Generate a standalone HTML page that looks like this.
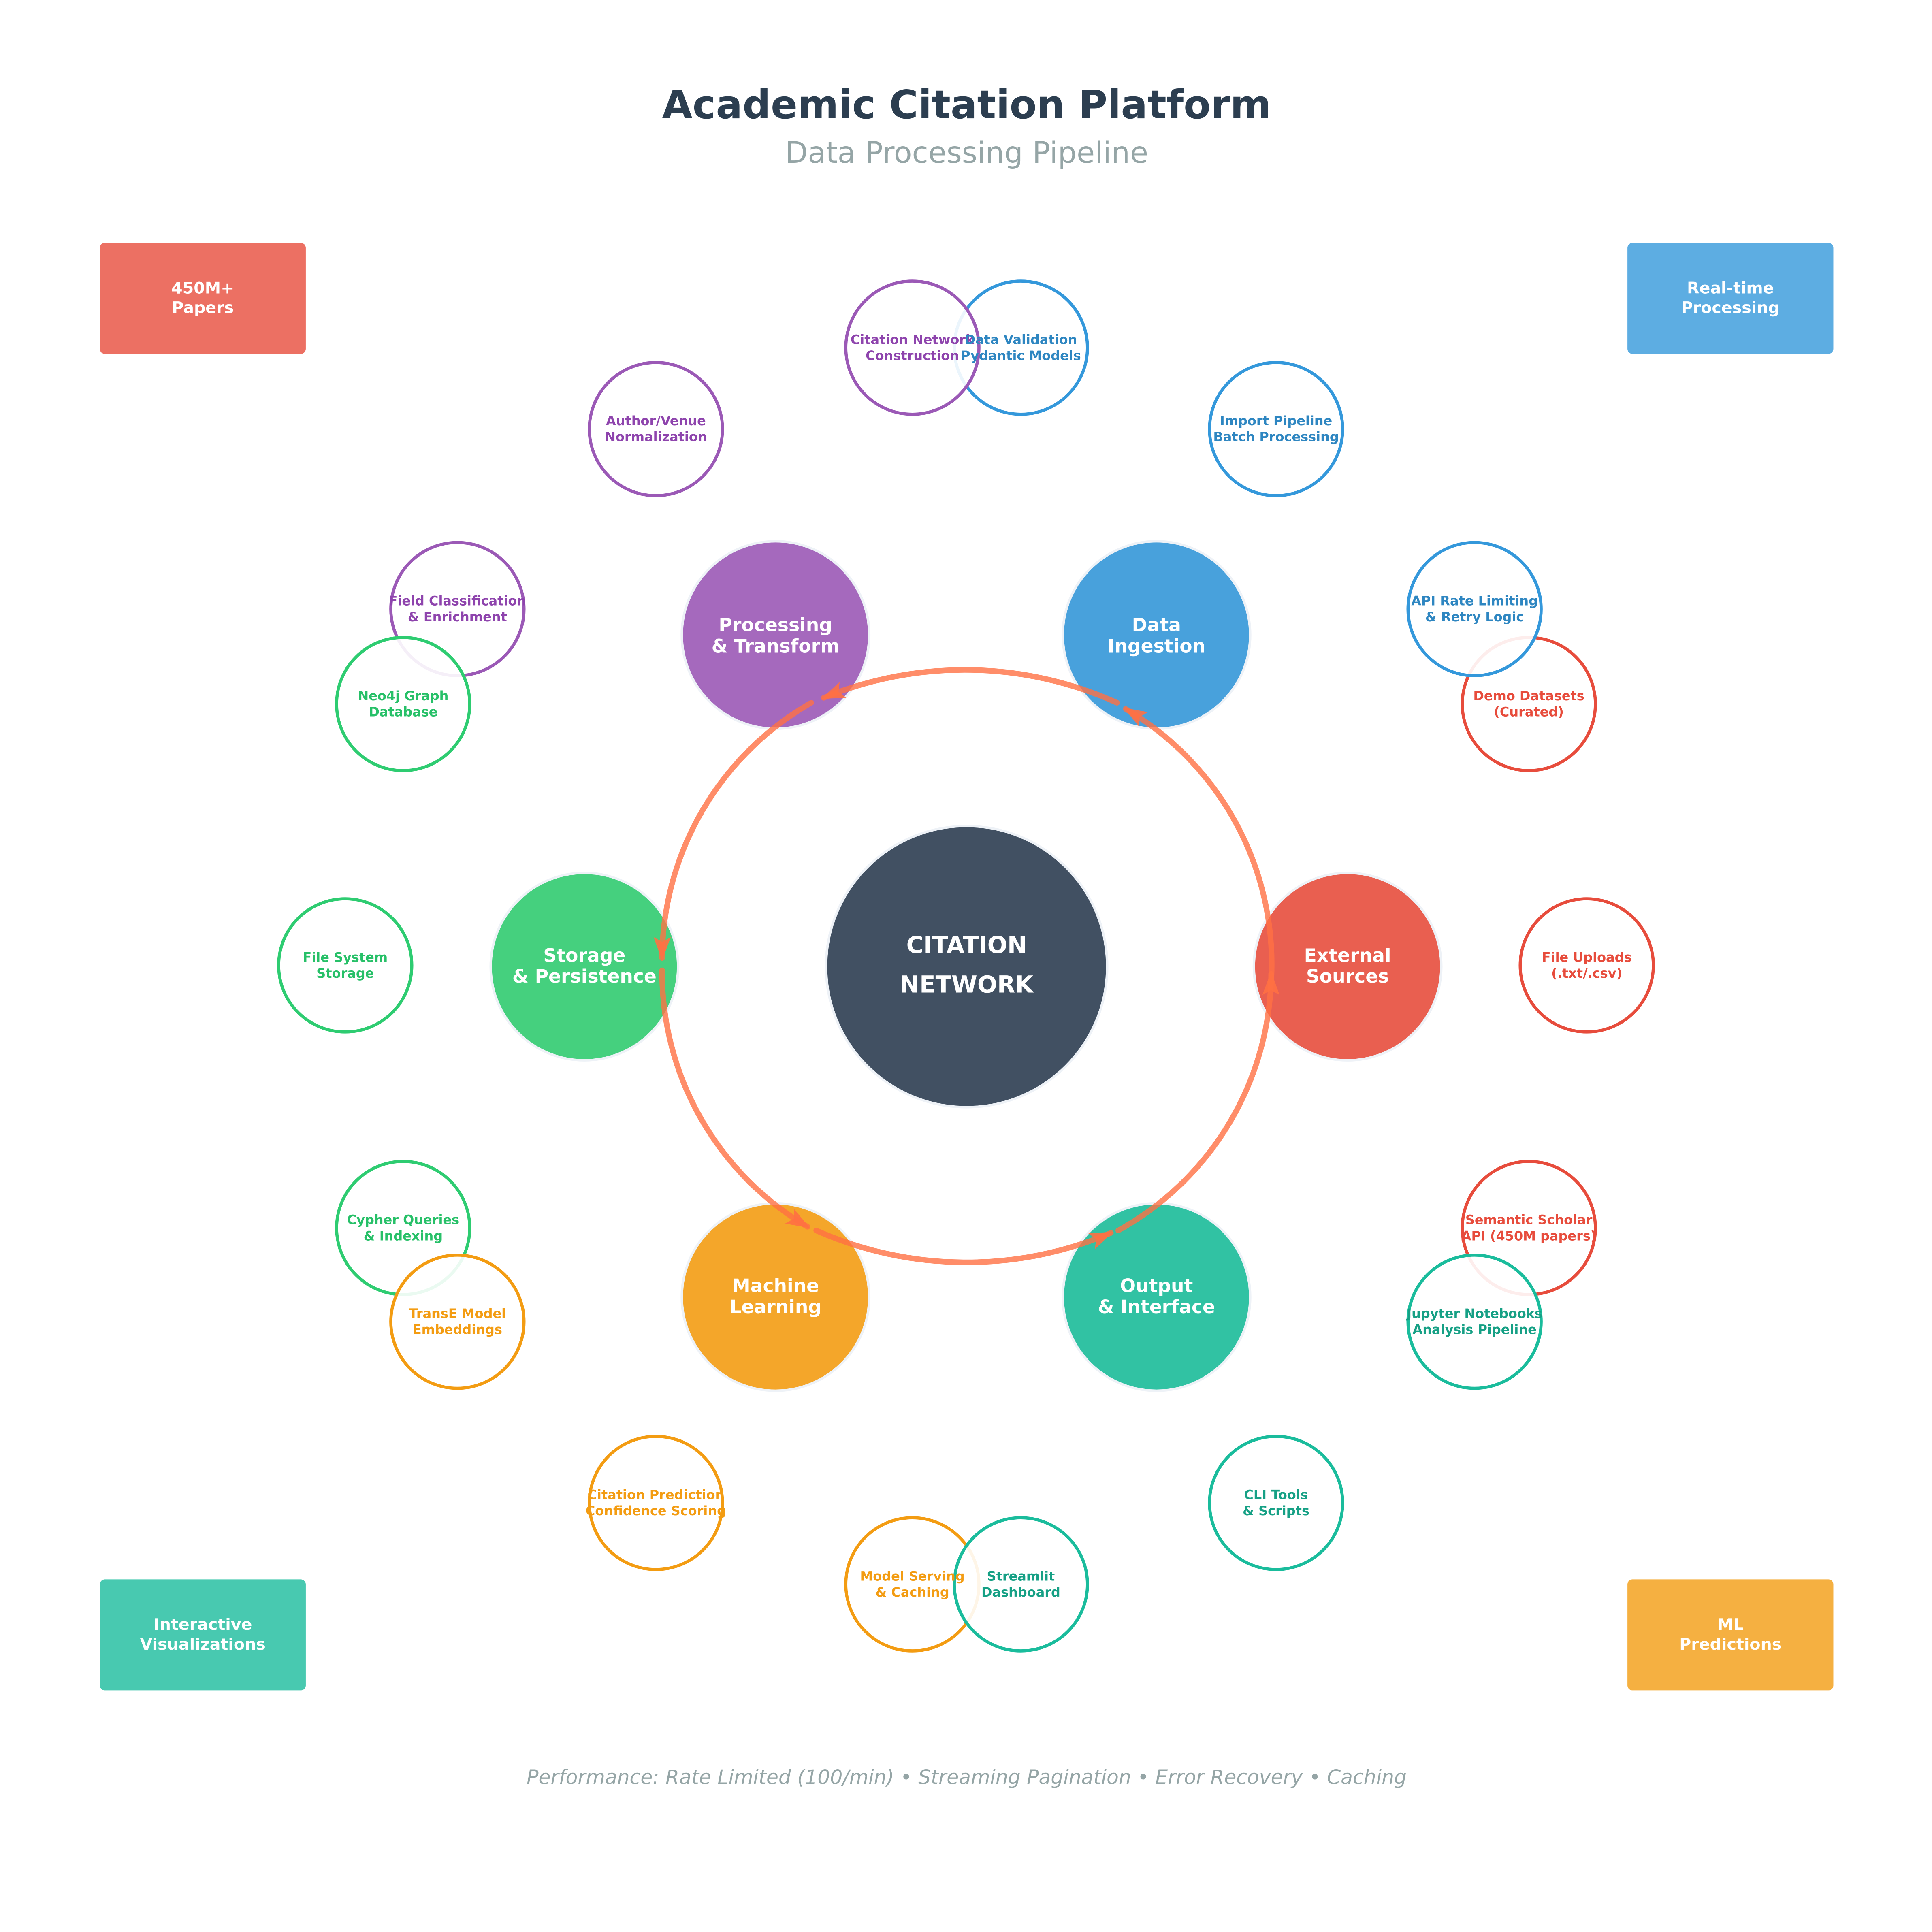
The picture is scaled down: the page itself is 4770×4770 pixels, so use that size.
<!DOCTYPE html>
<html><head><meta charset="utf-8"><style>
html,body{margin:0;padding:0;background:#fff}
svg{display:block}
text{font-family:"DejaVu Sans","Liberation Sans",sans-serif}
</style></head><body>
<svg width="4770" height="4770" viewBox="0 0 1567 1567" xmlns="http://www.w3.org/2000/svg">
<defs>
<marker id="ah" markerWidth="22" markerHeight="16" refX="18" refY="8" orient="auto" markerUnits="userSpaceOnUse">
<path d="M1,1 L20,8 L1,15 L5,8 z" fill="#ff7043" fill-opacity="0.9"/>
</marker>
</defs>
<rect width="1567" height="1567" fill="#fff"/>
<text x="784" y="96" text-anchor="middle" font-size="32" font-weight="bold" fill="#2c3e50">Academic Citation Platform</text>
<text x="784" y="132" text-anchor="middle" font-size="24" fill="#95a5a6">Data Processing Pipeline</text>

<g font-size="13" font-weight="bold" fill="#fff" text-anchor="middle">
<rect x="81" y="197" width="167" height="90" rx="4" fill="#ec7063"/>
<text x="164.5" y="238">450M+</text><text x="164.5" y="254">Papers</text>
<rect x="1320" y="197" width="167" height="90" rx="4" fill="#5dade2"/>
<text x="1403.5" y="238">Real-time</text><text x="1403.5" y="254">Processing</text>
<rect x="81" y="1281" width="167" height="90" rx="4" fill="#48c9b0"/>
<text x="164.5" y="1322">Interactive</text><text x="164.5" y="1338">Visualizations</text>
<rect x="1320" y="1281" width="167" height="90" rx="4" fill="#f5b041"/>
<text x="1403.5" y="1322">ML</text><text x="1403.5" y="1338">Predictions</text>
</g>

<g stroke="#eef2f7" stroke-width="2">
<circle cx="784" cy="784" r="114" fill="#415062"/>
<circle cx="629" cy="515" r="76" fill="#a569bd"/>
<circle cx="938" cy="515" r="76" fill="#48a1dc"/>
<circle cx="474" cy="784" r="76" fill="#45d07e"/>
<circle cx="1093" cy="784" r="76" fill="#e95f50"/>
<circle cx="629" cy="1052" r="76" fill="#f4a62a"/>
<circle cx="938" cy="1052" r="76" fill="#31c2a3"/>
</g>
<g font-size="15" font-weight="bold" fill="#fff" text-anchor="middle">
<text x="784" y="773" font-size="19">CITATION</text>
<text x="784" y="805" font-size="19">NETWORK</text>
<text x="629" y="512">Processing</text><text x="629" y="529">&amp; Transform</text>
<text x="938" y="512">Data</text><text x="938" y="529">Ingestion</text>
<text x="474" y="780">Storage</text><text x="474" y="797">&amp; Persistence</text>
<text x="1093" y="780">External</text><text x="1093" y="797">Sources</text>
<text x="629" y="1048">Machine</text><text x="629" y="1065">Learning</text>
<text x="938" y="1048">Output</text><text x="938" y="1065">&amp; Interface</text>
</g>

<g fill="none" stroke="#ff7043" stroke-opacity="0.8" stroke-width="4.5" stroke-linecap="round" marker-end="url(#ah)">
<path d="M906,570 A300,300 0 0 0 668,566"/>
<path d="M1031,797 A240,240 0 0 0 913,575"/>
<path d="M658,570 A240,240 0 0 0 537,777"/>
<path d="M537,787 A240,240 0 0 0 655,995"/>
<path d="M662,998 A300,300 0 0 0 901,1000"/>
<path d="M907,998 A240,240 0 0 0 1031,790"/>
</g>

<g fill="#fff" fill-opacity="0.9" stroke-width="2.5">
<circle cx="371" cy="494" r="54" stroke="#9b59b6"/>
<circle cx="327" cy="571" r="54" stroke="#2ecc71"/>
<circle cx="532" cy="348" r="54" stroke="#9b59b6"/>
<circle cx="828" cy="282" r="54" stroke="#3498db"/>
<circle cx="740" cy="282" r="54" stroke="#9b59b6"/>
<circle cx="1035" cy="348" r="54" stroke="#3498db"/>
<circle cx="1240" cy="571" r="54" stroke="#e74c3c"/>
<circle cx="1196" cy="494" r="54" stroke="#3498db"/>
<circle cx="1287" cy="783" r="54" stroke="#e74c3c"/>
<circle cx="280" cy="783" r="54" stroke="#2ecc71"/>
<circle cx="327" cy="996" r="54" stroke="#2ecc71"/>
<circle cx="371" cy="1072" r="54" stroke="#f39c12"/>
<circle cx="1240" cy="996" r="54" stroke="#e74c3c"/>
<circle cx="1196" cy="1072" r="54" stroke="#1abc9c"/>
<circle cx="532" cy="1219" r="54" stroke="#f39c12"/>
<circle cx="1035" cy="1219" r="54" stroke="#1abc9c"/>
<circle cx="740" cy="1285" r="54" stroke="#f39c12"/>
<circle cx="828" cy="1285" r="54" stroke="#1abc9c"/>
</g>
<g font-size="10.5" font-weight="bold" text-anchor="middle">
<g fill="#8e44ad">
<text x="740" y="279">Citation Network</text><text x="740" y="292">Construction</text>
<text x="532" y="345">Author/Venue</text><text x="532" y="358">Normalization</text>
<text x="371" y="491">Field Classification</text><text x="371" y="504">&amp; Enrichment</text>
</g>
<g fill="#2e86c1">
<text x="828" y="279">Data Validation</text><text x="828" y="292">Pydantic Models</text>
<text x="1035" y="345">Import Pipeline</text><text x="1035" y="358">Batch Processing</text>
<text x="1196" y="491">API Rate Limiting</text><text x="1196" y="504">&amp; Retry Logic</text>
</g>
<g fill="#e74c3c">
<text x="1240" y="568">Demo Datasets</text><text x="1240" y="581">(Curated)</text>
<text x="1287" y="780">File Uploads</text><text x="1287" y="793">(.txt/.csv)</text>
<text x="1240" y="993">Semantic Scholar</text><text x="1240" y="1006">API (450M papers)</text>
</g>
<g fill="#27c068">
<text x="327" y="568">Neo4j Graph</text><text x="327" y="581">Database</text>
<text x="280" y="780">File System</text><text x="280" y="793">Storage</text>
<text x="327" y="993">Cypher Queries</text><text x="327" y="1006">&amp; Indexing</text>
</g>
<g fill="#f39c12">
<text x="371" y="1069">TransE Model</text><text x="371" y="1082">Embeddings</text>
<text x="532" y="1216">Citation Prediction</text><text x="532" y="1229">Confidence Scoring</text>
<text x="740" y="1282">Model Serving</text><text x="740" y="1295">&amp; Caching</text>
</g>
<g fill="#16a085">
<text x="1196" y="1069">Jupyter Notebooks</text><text x="1196" y="1082">Analysis Pipeline</text>
<text x="1035" y="1216">CLI Tools</text><text x="1035" y="1229">&amp; Scripts</text>
<text x="828" y="1282">Streamlit</text><text x="828" y="1295">Dashboard</text>
</g>
</g>

<text x="784" y="1447" text-anchor="middle" font-size="16" font-style="italic" fill="#95a5a6">Performance: Rate Limited (100/min) • Streaming Pagination • Error Recovery • Caching</text>
</svg>
</body></html>
